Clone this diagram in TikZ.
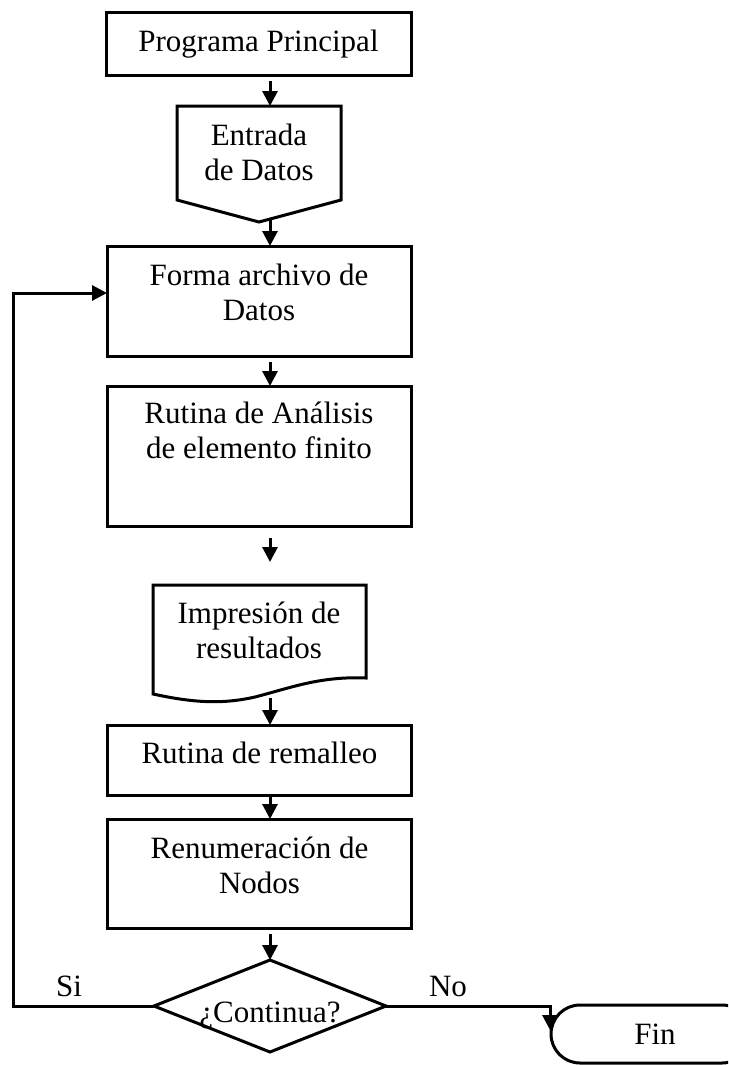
\documentclass[tikz,border=0pt]{standalone}
\usepackage{fontspec}
\setmainfont{Liberation Serif}
\usetikzlibrary{arrows.meta,calc,shapes.geometric}
\newcommand\tstrut{\rule{0pt}{30pt}}
\begin{document}
\begin{tikzpicture}[x=1pt,y=-1pt,
  every node/.style={font=\fontsize{31}{35}\selectfont, inner sep=0pt, outer sep=0pt},
  box/.style={draw, line width=3pt, minimum width=304pt},
  txt/.style={align=center},
  shp/.style={draw, line width=3pt, line join=miter},
  arr/.style={line width=3pt, line join=miter, -{Triangle[length=15pt,width=15pt]}}]
\useasboundingbox (0,0) rectangle (728,1065);
\clip (0,0) rectangle (728,1065);
\coordinate (ax) at (270,0);
% Programa Principal
\node[box, minimum width=305pt, minimum height=62pt] (prog) at (258.5,44) {Programa Principal};
% Entrada de Datos
\coordinate (entT) at (259,106);
\coordinate (entB) at (270,219);
\draw[shp] (177,106) -- (341,106) -- (341,200) -- (259,222) -- (177,200) -- cycle;
\node[txt, anchor=north] (ent) at (259,115) {\tstrut Entrada\\de Datos};
% Forma archivo
\node[box, minimum height=110pt] (forma) at (259,301) {};
\node[txt, anchor=north] (formaT) at (259,255) {\tstrut Forma archivo de\\Datos};
\coordinate (fIn) at (107,293);
% Rutina analisis
\node[box, minimum height=140pt] (rut) at (259,456) {};
\node[txt, anchor=north] (rutT) at (259,393) {\tstrut Rutina de Análisis\\de elemento finito};
\coordinate (f1) at (270,538);
\coordinate (f2) at (270,562);
% Impresion
\draw[shp] (153,585) -- (366,585) -- (366,678)
  .. controls (320,676) and (290,688) .. (255,697)
  .. controls (220,705) and (190,702) .. (153,694) -- cycle;
\node[txt, anchor=north] (imp) at (259,593) {\tstrut Impresión de\\resultados};
\coordinate (impB) at (270,694);
% Rutina de remalleo
\node[box, minimum height=70pt] (rem) at (259.5,760) {};
\node[anchor=base] (remT) at (259.5,763) {Rutina de remalleo};
% Renumeracion
\node[box, minimum height=109pt] (ren) at (259.5,873.5) {};
\node[txt, anchor=north] (renT) at (259.5,828) {\tstrut Renumeración de\\Nodos};
% Decision
\node[draw, diamond, line width=3pt, minimum width=232pt, minimum height=92pt] (dec) at (270,1006) {};
\node[anchor=base] (decT) at (270,1022) {¿Continua?};
\node[anchor=base] (si) at (69,996) {Si};
\node[anchor=base] (no) at (448,996) {No};
% Fin
\node[draw, line width=3pt, rounded corners=29pt, minimum width=200pt, minimum height=58pt] (fin) at (651,1034) {\hspace*{8pt}Fin};
\coordinate (finA) at (550,1030);
\coordinate (lp) at (13,1006);
% Arrows
\draw[arr, shorten <=6pt] (prog.south -| ax) -- (entT -| ax);
\draw[arr] (entB) -- (forma.north -| ax);
\draw[arr, shorten <=6pt] (forma.south -| ax) -- (rut.north -| ax);
\draw[arr] (f1) -- (f2);
\draw[arr, shorten <=4pt] (impB) -- (rem.north -| ax);
\draw[arr] (rem.south -| ax) -- (ren.north -| ax);
\draw[arr, shorten <=6pt] (ren.south -| ax) -- (dec.north);
\draw[arr] (dec.east) -| (finA);
\draw[arr] (dec.west) -- (lp) |- (fIn);
\end{tikzpicture}
\end{document}
